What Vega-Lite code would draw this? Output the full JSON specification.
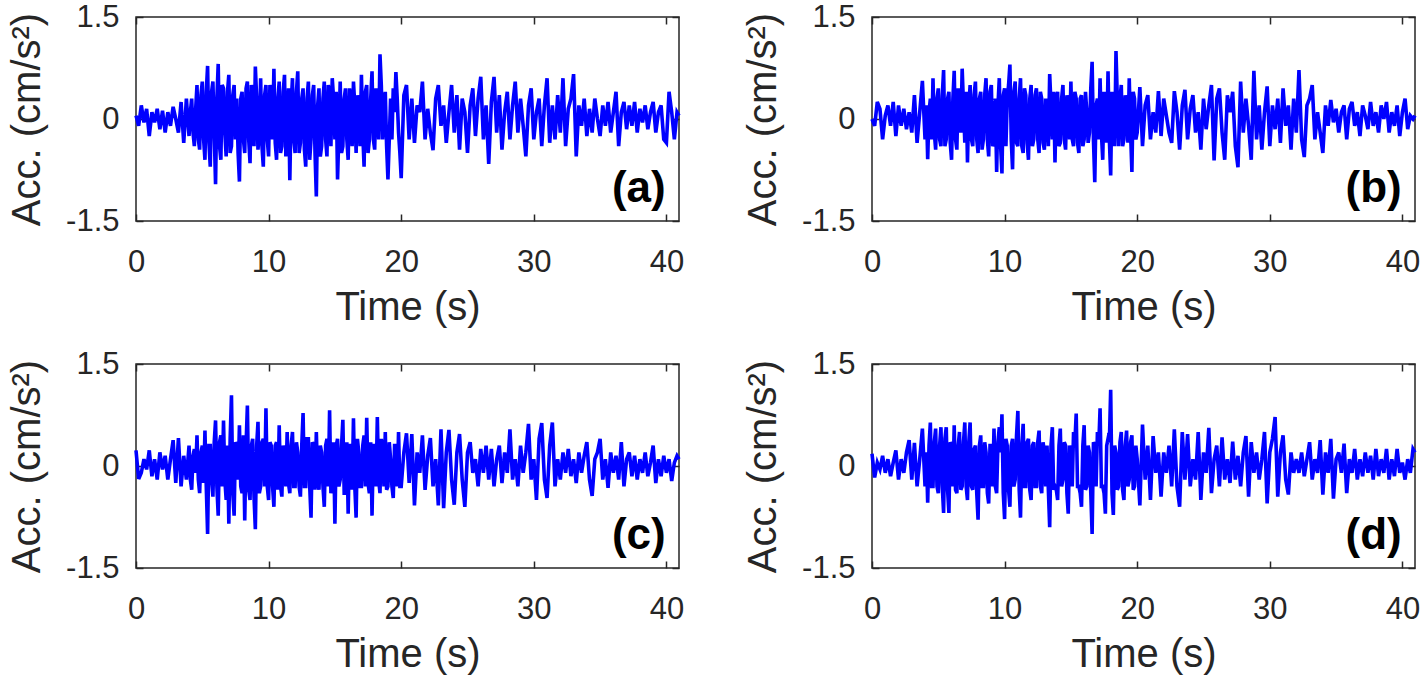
{
  "$schema": "https://vega.github.io/schema/vega-lite/v6.json",
  "padding": {"left": 6, "top": 0, "right": 0, "bottom": 0},
  "background": "white",
  "config": {
    "view": {"stroke": "#262626", "strokeWidth": 1.5},
    "font": "Liberation Sans",
    "axis": {"domain": false, "grid": false, "tickSize": -7, "tickWidth": 1.5, "tickColor": "#262626",
      "labelFont": "Liberation Sans", "labelFontSize": 31, "labelColor": "#262626", "labelFlush": false,
      "titleFont": "Liberation Sans", "titleFontSize": 40, "titleFontWeight": "normal", "titleColor": "#262626"},
    "axisBottom": {"labelPadding": 33, "titlePadding": 10},
    "axisLeft": {"labelPadding": 24, "titlePadding": 18},
    "axisTop": {"labels": false},
    "axisRight": {"labels": false},
    "text": {"font": "Liberation Sans", "fontWeight": "bold", "fontSize": 44, "align": "right", "baseline": "alphabetic", "color": "#000000"},
    "line": {"color": "#0000ff", "strokeWidth": 3.6}
  },
  "data": {"values": [
{"t":0,"a":0.05,"b":0,"c":0.23,"d":0.18},
{"t":0.2,"a":-0.1,"b":-0.1,"c":-0.19,"d":-0.17},
{"t":0.4,"a":0.2,"b":0.25,"c":-0.1,"d":0.05},
{"t":0.6,"a":-0.05,"b":0.15,"c":0.1,"d":-0.05},
{"t":0.8,"a":0.15,"b":-0.3,"c":-0.05,"d":0.15},
{"t":1,"a":-0.25,"b":0.05,"c":0.23,"d":-0.1},
{"t":1.2,"a":0.1,"b":0.2,"c":-0.15,"d":0.1},
{"t":1.4,"a":-0.05,"b":-0.1,"c":0.1,"d":-0.15},
{"t":1.6,"a":0.15,"b":0.25,"c":-0.2,"d":0.05},
{"t":1.8,"a":-0.15,"b":-0.25,"c":0.2,"d":0.23},
{"t":2,"a":0.12,"b":0.2,"c":-0.05,"d":-0.2},
{"t":2.2,"a":-0.2,"b":-0.1,"c":0.15,"d":0.1},
{"t":2.4,"a":0.1,"b":0.15,"c":-0.2,"d":-0.1},
{"t":2.6,"a":-0.1,"b":-0.15,"c":0.1,"d":0.2},
{"t":2.8,"a":0.18,"b":0.1,"c":0.38,"d":0.38},
{"t":3,"a":0,"b":-0.2,"c":-0.25,"d":-0.2},
{"t":3.2,"a":-0.2,"b":0.35,"c":0.41,"d":0.34},
{"t":3.4,"a":0.25,"b":-0.35,"c":-0.3,"d":-0.3},
{"t":3.6,"a":-0.35,"b":0.1,"c":0.15,"d":0.1},
{"t":3.8,"a":0.3,"b":0.56,"c":-0.2,"d":0.55},
{"t":4,"a":-0.25,"b":-0.3,"c":0.3,"d":-0.3},
{"t":4.2,"a":0.3,"b":-0.59,"c":-0.35,"d":-0.54},
{"t":4.4,"a":-0.4,"b":0.3,"c":0.25,"d":0.64},
{"t":4.6,"a":0.5,"b":0.6,"c":0.45,"d":-0.3},
{"t":4.8,"a":-0.45,"b":-0.45,"c":-0.4,"d":0.55},
{"t":5,"a":0.55,"b":0.45,"c":0.3,"d":-0.4},
{"t":5.2,"a":-0.6,"b":-0.4,"c":0.52,"d":0.57},
{"t":5.4,"a":0.78,"b":0.72,"c":-1.0,"d":-0.69},
{"t":5.6,"a":-0.7,"b":-0.3,"c":0.3,"d":0.57},
{"t":5.8,"a":0.55,"b":0.4,"c":-0.45,"d":-0.69},
{"t":6,"a":-0.96,"b":-0.6,"c":0.67,"d":0.3},
{"t":6.2,"a":0.81,"b":0.71,"c":-0.73,"d":0.6},
{"t":6.4,"a":-0.6,"b":-0.45,"c":0.45,"d":-0.4},
{"t":6.6,"a":0.45,"b":0.3,"c":0.67,"d":0.5},
{"t":6.8,"a":-0.55,"b":0.74,"c":-0.5,"d":-0.3},
{"t":7,"a":0.65,"b":-0.35,"c":-0.85,"d":0.64},
{"t":7.2,"a":-0.4,"b":-0.64,"c":1.04,"d":-0.5},
{"t":7.4,"a":0.5,"b":0.5,"c":-0.73,"d":0.64},
{"t":7.6,"a":0.3,"b":-0.4,"c":0.3,"d":-0.35},
{"t":7.8,"a":-0.92,"b":0.55,"c":0.6,"d":0.3},
{"t":8,"a":0.4,"b":-0.5,"c":-0.4,"d":-0.79},
{"t":8.2,"a":-0.5,"b":0.4,"c":-0.8,"d":0.45},
{"t":8.4,"a":0.55,"b":-0.3,"c":0.89,"d":-0.3},
{"t":8.6,"a":-0.65,"b":0.6,"c":-0.5,"d":0.2},
{"t":8.8,"a":0.3,"b":-0.55,"c":0.4,"d":-0.55},
{"t":9,"a":0.77,"b":0.5,"c":-0.93,"d":0.3},
{"t":9.2,"a":-0.45,"b":-0.35,"c":0.65,"d":0.55},
{"t":9.4,"a":0.6,"b":-0.78,"c":-0.3,"d":-0.4},
{"t":9.6,"a":-0.7,"b":0.6,"c":0.4,"d":0.57},
{"t":9.8,"a":0.5,"b":-0.8,"c":0.85,"d":0.76},
{"t":10,"a":-0.55,"b":0.45,"c":-0.5,"d":-0.78},
{"t":10.2,"a":0.3,"b":0.3,"c":0.3,"d":0.3},
{"t":10.4,"a":0.74,"b":0.8,"c":-0.6,"d":-0.6},
{"t":10.6,"a":-0.6,"b":-0.74,"c":0.35,"d":0.4},
{"t":10.8,"a":0.55,"b":0.55,"c":0.6,"d":-0.2},
{"t":11,"a":-0.4,"b":-0.4,"c":-0.45,"d":0.81},
{"t":11.2,"a":0.65,"b":0.6,"c":0.2,"d":-0.76},
{"t":11.4,"a":-0.2,"b":-0.5,"c":0.5,"d":0.62},
{"t":11.6,"a":-0.9,"b":0.35,"c":-0.4,"d":-0.3},
{"t":11.8,"a":0.6,"b":-0.6,"c":0.5,"d":0.4},
{"t":12,"a":-0.5,"b":0.5,"c":-0.3,"d":-0.5},
{"t":12.2,"a":0.7,"b":-0.3,"c":0.2,"d":0.35},
{"t":12.4,"a":-0.35,"b":0.45,"c":-0.45,"d":-0.3},
{"t":12.6,"a":0.45,"b":-0.5,"c":0.78,"d":0.52},
{"t":12.8,"a":-0.7,"b":0.3,"c":-0.3,"d":-0.4},
{"t":13,"a":0.55,"b":-0.45,"c":0.4,"d":0.2},
{"t":13.2,"a":-0.3,"b":0.2,"c":-0.76,"d":0.3},
{"t":13.4,"a":0.5,"b":0.66,"c":0.3,"d":-0.9},
{"t":13.6,"a":-1.14,"b":-0.3,"c":0.5,"d":0.57},
{"t":13.8,"a":0.45,"b":-0.64,"c":-0.35,"d":-0.3},
{"t":14,"a":-0.4,"b":0.4,"c":0.2,"d":-0.5},
{"t":14.2,"a":0.55,"b":-0.35,"c":-0.6,"d":0.55},
{"t":14.4,"a":-0.55,"b":0.5,"c":0.4,"d":-0.2},
{"t":14.6,"a":0.35,"b":-0.45,"c":0.82,"d":0.3},
{"t":14.8,"a":0.6,"b":0.2,"c":-0.3,"d":-0.7},
{"t":15,"a":-0.3,"b":0.55,"c":-0.85,"d":0.2},
{"t":15.2,"a":-0.89,"b":-0.4,"c":0.4,"d":0.5},
{"t":15.4,"a":0.55,"b":0.3,"c":-0.2,"d":0.77},
{"t":15.6,"a":-0.4,"b":-0.5,"c":0.68,"d":-0.3},
{"t":15.8,"a":0.45,"b":0.35,"c":-0.4,"d":-0.6},
{"t":16,"a":-0.6,"b":-0.3,"c":-0.7,"d":0.6},
{"t":16.2,"a":0.3,"b":0.1,"c":0.3,"d":-0.3},
{"t":16.4,"a":0.55,"b":-0.2,"c":0.7,"d":0.2},
{"t":16.6,"a":-0.5,"b":0.84,"c":-0.76,"d":-1.0},
{"t":16.8,"a":0.1,"b":-0.93,"c":0.2,"d":0.3},
{"t":17,"a":0.65,"b":0.3,"c":-0.3,"d":0.5},
{"t":17.2,"a":-0.7,"b":0.6,"c":0.45,"d":0.85},
{"t":17.4,"a":0.5,"b":-0.6,"c":0.71,"d":-0.3},
{"t":17.6,"a":-0.3,"b":0.2,"c":-0.4,"d":-0.7},
{"t":17.8,"a":0.7,"b":0.7,"c":-0.73,"d":0.4},
{"t":18,"a":-0.45,"b":-0.83,"c":0.3,"d":1.12},
{"t":18.2,"a":0.2,"b":0.3,"c":0.72,"d":-0.72},
{"t":18.4,"a":0.95,"b":1.0,"c":-0.4,"d":0.2},
{"t":18.6,"a":-0.3,"b":-0.4,"c":0.2,"d":-0.3},
{"t":18.8,"a":0.4,"b":0.5,"c":0.5,"d":0.5},
{"t":19,"a":-0.89,"b":-0.3,"c":-0.3,"d":-0.5},
{"t":19.2,"a":0.3,"b":0.2,"c":0.1,"d":0.52},
{"t":19.4,"a":0.45,"b":0.6,"c":-0.47,"d":-0.2},
{"t":19.6,"a":0.69,"b":-0.78,"c":0.3,"d":0.45},
{"t":19.8,"a":-0.2,"b":0.3,"c":0.5,"d":-0.3},
{"t":20,"a":-0.87,"b":-0.2,"c":-0.3,"d":0.1},
{"t":20.2,"a":0.35,"b":0.47,"c":0.2,"d":-0.58},
{"t":20.4,"a":0.5,"b":-0.4,"c":0.48,"d":0.61},
{"t":20.6,"a":-0.3,"b":0.2,"c":-0.25,"d":-0.2},
{"t":20.8,"a":0.3,"b":0.35,"c":0.47,"d":0.3},
{"t":21,"a":-0.35,"b":-0.3,"c":-0.58,"d":-0.5},
{"t":21.2,"a":0.2,"b":0.1,"c":0.2,"d":0.44},
{"t":21.4,"a":0.1,"b":-0.2,"c":-0.1,"d":-0.1},
{"t":21.6,"a":0.55,"b":0.41,"c":0.45,"d":0.2},
{"t":21.8,"a":-0.3,"b":-0.25,"c":-0.35,"d":-0.45},
{"t":22,"a":0.15,"b":0.3,"c":0.15,"d":0.2},
{"t":22.2,"a":-0.2,"b":0.05,"c":0.41,"d":-0.1},
{"t":22.4,"a":-0.46,"b":-0.2,"c":-0.3,"d":0.3},
{"t":22.6,"a":0.3,"b":-0.35,"c":0.1,"d":-0.3},
{"t":22.8,"a":0.5,"b":0.41,"c":-0.58,"d":0.54},
{"t":23,"a":-0.1,"b":0.1,"c":0.54,"d":-0.3},
{"t":23.2,"a":0.2,"b":-0.45,"c":-0.62,"d":-0.6},
{"t":23.4,"a":-0.35,"b":0.2,"c":0.2,"d":0.5},
{"t":23.6,"a":0.1,"b":0.43,"c":0.53,"d":-0.2},
{"t":23.8,"a":0.5,"b":-0.3,"c":-0.2,"d":0.47},
{"t":24,"a":-0.2,"b":0.15,"c":-0.57,"d":-0.3},
{"t":24.2,"a":0.35,"b":0.35,"c":0.2,"d":0.1},
{"t":24.4,"a":-0.45,"b":-0.2,"c":0.47,"d":-0.2},
{"t":24.6,"a":0.3,"b":0.1,"c":-0.2,"d":0.5},
{"t":24.8,"a":0.1,"b":-0.45,"c":-0.6,"d":-0.5},
{"t":25,"a":-0.5,"b":0.3,"c":0.2,"d":0.2},
{"t":25.2,"a":0.2,"b":-0.15,"c":0.35,"d":-0.1},
{"t":25.4,"a":0.45,"b":0.2,"c":-0.1,"d":0.56},
{"t":25.6,"a":-0.25,"b":0.5,"c":0.1,"d":-0.4},
{"t":25.8,"a":0.3,"b":-0.61,"c":-0.3,"d":0.1},
{"t":26,"a":0.62,"b":0.3,"c":0.25,"d":0.3},
{"t":26.2,"a":-0.3,"b":0.45,"c":-0.1,"d":-0.3},
{"t":26.4,"a":0.2,"b":-0.2,"c":0.3,"d":0.42},
{"t":26.6,"a":-0.66,"b":-0.6,"c":-0.2,"d":-0.2},
{"t":26.8,"a":0.25,"b":0.35,"c":0.25,"d":0.1},
{"t":27,"a":0.62,"b":0.1,"c":-0.3,"d":-0.25},
{"t":27.2,"a":-0.2,"b":0.4,"c":0.1,"d":0.36},
{"t":27.4,"a":0.35,"b":-0.4,"c":0.3,"d":-0.2},
{"t":27.6,"a":-0.45,"b":-0.71,"c":-0.25,"d":0.15},
{"t":27.8,"a":0.1,"b":0.55,"c":0.2,"d":-0.3},
{"t":28,"a":0.4,"b":-0.2,"c":-0.1,"d":0.2},
{"t":28.2,"a":-0.3,"b":0.3,"c":0.54,"d":0.44},
{"t":28.4,"a":0.2,"b":-0.1,"c":-0.2,"d":-0.45},
{"t":28.6,"a":0.55,"b":-0.6,"c":0.1,"d":0.35},
{"t":28.8,"a":-0.2,"b":0.71,"c":-0.3,"d":-0.1},
{"t":29,"a":0.3,"b":-0.3,"c":0.3,"d":0.2},
{"t":29.2,"a":-0.1,"b":0.2,"c":-0.1,"d":-0.2},
{"t":29.4,"a":-0.55,"b":-0.45,"c":0.2,"d":0.1},
{"t":29.6,"a":0.2,"b":0.1,"c":0.62,"d":0.5},
{"t":29.8,"a":0.45,"b":0.48,"c":-0.2,"d":-0.55},
{"t":30,"a":-0.3,"b":-0.4,"c":0.1,"d":0.2},
{"t":30.2,"a":0.1,"b":0.2,"c":-0.5,"d":0.4},
{"t":30.4,"a":0.3,"b":-0.15,"c":0.4,"d":0.72},
{"t":30.6,"a":-0.4,"b":0.3,"c":0.63,"d":-0.45},
{"t":30.8,"a":0.2,"b":-0.35,"c":-0.2,"d":0.2},
{"t":31,"a":0.6,"b":0.45,"c":-0.47,"d":0.45},
{"t":31.2,"a":-0.35,"b":-0.1,"c":0.3,"d":-0.2},
{"t":31.4,"a":0.2,"b":0.2,"c":0.64,"d":-0.42},
{"t":31.6,"a":-0.3,"b":-0.45,"c":-0.3,"d":0.2},
{"t":31.8,"a":0.35,"b":0.3,"c":0.1,"d":-0.1},
{"t":32,"a":-0.2,"b":-0.2,"c":-0.2,"d":0.1},
{"t":32.2,"a":0.6,"b":0.72,"c":0.2,"d":-0.1},
{"t":32.4,"a":-0.4,"b":-0.3,"c":-0.1,"d":0.2},
{"t":32.6,"a":0.15,"b":-0.56,"c":0.25,"d":-0.15},
{"t":32.8,"a":0.3,"b":0.2,"c":-0.15,"d":0.1},
{"t":33,"a":0.66,"b":0.3,"c":0.1,"d":0.35},
{"t":33.2,"a":-0.55,"b":0.5,"c":-0.25,"d":-0.2},
{"t":33.4,"a":0.2,"b":-0.3,"c":0.2,"d":0.1},
{"t":33.6,"a":-0.1,"b":0.1,"c":-0.1,"d":-0.1},
{"t":33.8,"a":0.3,"b":-0.2,"c":0.15,"d":0.38},
{"t":34,"a":-0.25,"b":-0.5,"c":0.35,"d":-0.42},
{"t":34.2,"a":0.15,"b":0.2,"c":-0.2,"d":0.2},
{"t":34.4,"a":-0.2,"b":-0.1,"c":-0.44,"d":-0.1},
{"t":34.6,"a":0.3,"b":0.28,"c":0.1,"d":0.4},
{"t":34.8,"a":0,"b":-0.05,"c":0.2,"d":-0.48},
{"t":35,"a":-0.25,"b":0.15,"c":0.4,"d":0.1},
{"t":35.2,"a":0.2,"b":-0.2,"c":-0.2,"d":0.2},
{"t":35.4,"a":-0.1,"b":0.1,"c":0.1,"d":-0.1},
{"t":35.6,"a":0.25,"b":0.2,"c":-0.32,"d":0.33},
{"t":35.8,"a":-0.2,"b":-0.3,"c":0.2,"d":-0.4},
{"t":36,"a":0.1,"b":0.15,"c":-0.1,"d":0.1},
{"t":36.2,"a":0.4,"b":0.25,"c":0.15,"d":-0.1},
{"t":36.4,"a":-0.4,"b":-0.1,"c":-0.2,"d":0.25},
{"t":36.6,"a":0.1,"b":0.1,"c":0.35,"d":-0.2},
{"t":36.8,"a":0.25,"b":-0.25,"c":-0.3,"d":0.1},
{"t":37,"a":-0.15,"b":0.2,"c":0.1,"d":-0.15},
{"t":37.2,"a":0.2,"b":0.05,"c":0.2,"d":0.2},
{"t":37.4,"a":-0.1,"b":-0.15,"c":-0.15,"d":-0.1},
{"t":37.6,"a":0.25,"b":0.25,"c":0.15,"d":0.15},
{"t":37.8,"a":-0.2,"b":-0.1,"c":-0.2,"d":-0.2},
{"t":38,"a":0.15,"b":0.1,"c":0.1,"d":0.25},
{"t":38.2,"a":-0.05,"b":-0.2,"c":-0.1,"d":-0.15},
{"t":38.4,"a":0.2,"b":0.2,"c":0.2,"d":0.1},
{"t":38.6,"a":-0.15,"b":0,"c":-0.15,"d":-0.1},
{"t":38.8,"a":0.1,"b":0.25,"c":0.05,"d":0.25},
{"t":39,"a":0.25,"b":-0.2,"c":0.3,"d":-0.2},
{"t":39.2,"a":-0.2,"b":0.1,"c":-0.25,"d":0.1},
{"t":39.4,"a":0.1,"b":-0.1,"c":0.1,"d":-0.15},
{"t":39.6,"a":0.2,"b":0.2,"c":-0.15,"d":0.25},
{"t":39.8,"a":-0.3,"b":-0.25,"c":0.15,"d":-0.1},
{"t":40,"a":-0.35,"b":0.1,"c":-0.1,"d":0.05},
{"t":40.2,"a":0.4,"b":0.3,"c":0.1,"d":-0.2},
{"t":40.4,"a":0.1,"b":-0.15,"c":-0.22,"d":0.1},
{"t":40.6,"a":-0.3,"b":0.05,"c":0.05,"d":-0.1},
{"t":40.8,"a":0.1,"b":0,"c":0.15,"d":0.25},
{"t":40.95,"a":0.05,"b":0.05,"c":0.1,"d":0.2},
{"t":4.1,"a":0.1,"b":0.2,"c":-0.2,"d":0.2},
{"t":4.3,"a":-0.2,"b":0.1,"c":0.15,"d":0.3},
{"t":4.5,"a":0.15,"b":-0.3,"c":-0.1,"d":-0.3},
{"t":4.7,"a":-0.3,"b":-0.2,"c":-0.2,"d":0.35},
{"t":4.9,"a":0.35,"b":0.3,"c":0.2,"d":-0.3},
{"t":5.1,"a":-0.3,"b":-0.3,"c":-0.25,"d":0.3},
{"t":5.3,"a":0.4,"b":0.35,"c":-0.3,"d":-0.3},
{"t":5.5,"a":-0.35,"b":-0.4,"c":0.3,"d":0.4},
{"t":5.7,"a":0.4,"b":0.3,"c":-0.2,"d":-0.35},
{"t":5.9,"a":-0.2,"b":-0.35,"c":0.35,"d":0.35},
{"t":6.1,"a":0.3,"b":0.3,"c":-0.3,"d":-0.3},
{"t":6.3,"a":-0.4,"b":-0.3,"c":0.35,"d":-0.35},
{"t":6.5,"a":0.5,"b":0.45,"c":-0.3,"d":0.3},
{"t":6.7,"a":-0.2,"b":-0.2,"c":-0.2,"d":-0.35},
{"t":6.9,"a":0.4,"b":0.2,"c":0.3,"d":0.35},
{"t":7.1,"a":-0.5,"b":0.4,"c":0.4,"d":-0.3},
{"t":7.3,"a":0.35,"b":0.2,"c":-0.4,"d":0.35},
{"t":7.5,"a":-0.3,"b":-0.3,"c":0.35,"d":-0.3},
{"t":7.7,"a":-0.5,"b":0.35,"c":-0.2,"d":0.25},
{"t":7.9,"a":0.3,"b":-0.3,"c":-0.3,"d":-0.4},
{"t":8.1,"a":-0.3,"b":0.3,"c":0.45,"d":0.3},
{"t":8.3,"a":0.45,"b":-0.45,"c":0.3,"d":-0.3},
{"t":8.5,"a":-0.3,"b":0.35,"c":-0.35,"d":0.35},
{"t":8.7,"a":0.5,"b":-0.3,"c":0.3,"d":-0.4},
{"t":8.9,"a":-0.4,"b":0.4,"c":-0.45,"d":0.3},
{"t":9.1,"a":0.3,"b":-0.4,"c":0.3,"d":-0.3},
{"t":9.3,"a":-0.2,"b":0.3,"c":-0.4,"d":-0.3},
{"t":9.5,"a":-0.4,"b":0.2,"c":0.35,"d":0.35},
{"t":9.7,"a":0.35,"b":-0.4,"c":-0.3,"d":0.2},
{"t":9.9,"a":-0.3,"b":0.35,"c":-0.3,"d":-0.4},
{"t":10.1,"a":0.5,"b":-0.4,"c":0.35,"d":0.4},
{"t":10.3,"a":-0.3,"b":0.5,"c":-0.3,"d":-0.35},
{"t":10.5,"a":-0.35,"b":-0.3,"c":0.3,"d":0.3},
{"t":10.7,"a":0.3,"b":0.4,"c":-0.35,"d":-0.3},
{"t":10.9,"a":-0.5,"b":-0.35,"c":-0.3,"d":0.45},
{"t":11.1,"a":0.4,"b":0.3,"c":0.3,"d":-0.35},
{"t":11.3,"a":-0.55,"b":-0.4,"c":-0.3,"d":0.3},
{"t":11.5,"a":0.45,"b":0.45,"c":-0.25,"d":-0.3},
{"t":11.7,"a":0.2,"b":-0.35,"c":0.3,"d":0.35},
{"t":11.9,"a":-0.3,"b":0.3,"c":-0.3,"d":-0.35},
{"t":12.1,"a":0.4,"b":-0.4,"c":0.35,"d":0.3},
{"t":12.3,"a":-0.5,"b":0.35,"c":-0.3,"d":-0.3},
{"t":12.5,"a":0.3,"b":-0.3,"c":0.3,"d":0.35},
{"t":12.7,"a":-0.45,"b":0.4,"c":-0.3,"d":-0.3},
{"t":12.9,"a":0.3,"b":-0.35,"c":0.4,"d":0.35},
{"t":13.1,"a":-0.6,"b":0.3,"c":-0.3,"d":-0.3},
{"t":13.3,"a":0.35,"b":-0.4,"c":0.35,"d":-0.35},
{"t":13.5,"a":-0.5,"b":0.2,"c":-0.35,"d":0.3},
{"t":13.7,"a":0.2,"b":0.4,"c":-0.2,"d":-0.35},
{"t":13.9,"a":-0.55,"b":0.3,"c":0.3,"d":-0.35},
{"t":14.1,"a":0.3,"b":-0.4,"c":-0.3,"d":0.3},
{"t":14.3,"a":-0.3,"b":0.3,"c":0.3,"d":-0.3},
{"t":14.5,"a":0.5,"b":-0.3,"c":-0.3,"d":0.35},
{"t":14.7,"a":-0.4,"b":0.35,"c":-0.4,"d":-0.4},
{"t":14.9,"a":0.3,"b":-0.3,"c":0.35,"d":0.3},
{"t":15.1,"a":0.4,"b":-0.3,"c":0.3,"d":-0.3},
{"t":15.3,"a":-0.2,"b":0.4,"c":-0.3,"d":0.35},
{"t":15.5,"a":-0.5,"b":-0.35,"c":0.3,"d":-0.3},
{"t":15.7,"a":0.3,"b":0.3,"c":-0.4,"d":-0.4},
{"t":15.9,"a":-0.3,"b":-0.4,"c":0.35,"d":0.3},
{"t":16.1,"a":0.45,"b":0.4,"c":0.3,"d":-0.35},
{"t":16.3,"a":-0.4,"b":-0.35,"c":-0.35,"d":0.3},
{"t":16.5,"a":0.2,"b":0.45,"c":-0.3,"d":-0.4},
{"t":16.7,"a":0.35,"b":-0.3,"c":0.4,"d":0.35},
{"t":16.9,"a":-0.4,"b":0.2,"c":-0.3,"d":-0.3},
{"t":17.1,"a":-0.2,"b":-0.3,"c":0.3,"d":0.3},
{"t":17.3,"a":0.4,"b":-0.2,"c":-0.3,"d":-0.3},
{"t":17.5,"a":-0.5,"b":0.4,"c":-0.25,"d":-0.4},
{"t":17.7,"a":0.3,"b":-0.35,"c":0.35,"d":0.3},
{"t":17.9,"a":-0.3,"b":-0.3,"c":0.3,"d":0.35},
{"t":18.1,"a":0.45,"b":0.4,"c":-0.3,"d":-0.4},
{"t":18.3,"a":-0.3,"b":-0.4,"c":-0.2,"d":0.3},
{"t":18.5,"a":0.5,"b":0.3,"c":0.4,"d":-0.35},
{"t":18.7,"a":0.2,"b":0.3,"c":-0.3,"d":0.35},
{"t":18.9,"a":-0.4,"b":-0.4,"c":-0.35,"d":-0.35},
{"t":19.1,"a":-0.3,"b":0.35,"c":0.35,"d":0.3},
{"t":19.3,"a":-0.3,"b":-0.35,"c":-0.3,"d":-0.3},
{"t":19.5,"a":0.1,"b":-0.2,"c":0.3,"d":0.35},
{"t":19.7,"a":0.3,"b":0.4,"c":-0.3,"d":-0.35},
{"t":19.9,"a":-0.5,"b":-0.3,"c":-0.3,"d":0.3}
  ]},
  "transform": [{"fold": ["a", "b", "c", "d"], "as": ["panel", "v"]}],
  "columns": 2,
  "spacing": {"row": 143, "column": 193},
  "bounds": "flush",
  "concat": [
    {
      "transform": [{"filter": "datum.panel == 'a'"}],
      "width": 543, "height": 204,
      "layer": [
        {"mark": "line",
         "encoding": {
           "x": {"field": "t", "type": "quantitative", "scale": {"domain": [0, 40.95], "nice": false, "zero": false},
             "axis": {"orient": "bottom", "values": [0, 10, 20, 30, 40], "format": "d", "title": "Time (s)"}},
           "y": {"field": "v", "type": "quantitative", "scale": {"domain": [-1.5, 1.5], "nice": false, "zero": false},
             "axis": {"orient": "left", "values": [-1.5, 0, 1.5], "title": "Acc. (cm/s²)", "labelExpr": "datum.value < 0 ? '-' + format(-datum.value, '~g') : format(datum.value, '~g')"}}}},
        {"transform": [{"aggregate": [{"op": "count", "as": "n"}]}],
         "mark": "text",
         "encoding": {
           "x": {"datum": 39.95, "type": "quantitative", "axis": {"orient": "top", "values": [0, 10, 20, 30, 40], "title": null}},
           "y": {"datum": -1.22, "type": "quantitative", "axis": {"orient": "right", "values": [-1.5, 0, 1.5], "title": null}},
           "text": {"value": "(a)"}}}
      ],
      "resolve": {"axis": {"x": "independent", "y": "independent"}}
    },
    {
      "transform": [{"filter": "datum.panel == 'b'"}],
      "width": 543, "height": 204,
      "layer": [
        {"mark": "line",
         "encoding": {
           "x": {"field": "t", "type": "quantitative", "scale": {"domain": [0, 40.95], "nice": false, "zero": false},
             "axis": {"orient": "bottom", "values": [0, 10, 20, 30, 40], "format": "d", "title": "Time (s)"}},
           "y": {"field": "v", "type": "quantitative", "scale": {"domain": [-1.5, 1.5], "nice": false, "zero": false},
             "axis": {"orient": "left", "values": [-1.5, 0, 1.5], "title": "Acc. (cm/s²)", "labelExpr": "datum.value < 0 ? '-' + format(-datum.value, '~g') : format(datum.value, '~g')"}}}},
        {"transform": [{"aggregate": [{"op": "count", "as": "n"}]}],
         "mark": "text",
         "encoding": {
           "x": {"datum": 39.95, "type": "quantitative", "axis": {"orient": "top", "values": [0, 10, 20, 30, 40], "title": null}},
           "y": {"datum": -1.22, "type": "quantitative", "axis": {"orient": "right", "values": [-1.5, 0, 1.5], "title": null}},
           "text": {"value": "(b)"}}}
      ],
      "resolve": {"axis": {"x": "independent", "y": "independent"}}
    },
    {
      "transform": [{"filter": "datum.panel == 'c'"}],
      "width": 543, "height": 204,
      "layer": [
        {"mark": "line",
         "encoding": {
           "x": {"field": "t", "type": "quantitative", "scale": {"domain": [0, 40.95], "nice": false, "zero": false},
             "axis": {"orient": "bottom", "values": [0, 10, 20, 30, 40], "format": "d", "title": "Time (s)"}},
           "y": {"field": "v", "type": "quantitative", "scale": {"domain": [-1.5, 1.5], "nice": false, "zero": false},
             "axis": {"orient": "left", "values": [-1.5, 0, 1.5], "title": "Acc. (cm/s²)", "labelExpr": "datum.value < 0 ? '-' + format(-datum.value, '~g') : format(datum.value, '~g')"}}}},
        {"transform": [{"aggregate": [{"op": "count", "as": "n"}]}],
         "mark": "text",
         "encoding": {
           "x": {"datum": 39.95, "type": "quantitative", "axis": {"orient": "top", "values": [0, 10, 20, 30, 40], "title": null}},
           "y": {"datum": -1.22, "type": "quantitative", "axis": {"orient": "right", "values": [-1.5, 0, 1.5], "title": null}},
           "text": {"value": "(c)"}}}
      ],
      "resolve": {"axis": {"x": "independent", "y": "independent"}}
    },
    {
      "transform": [{"filter": "datum.panel == 'd'"}],
      "width": 543, "height": 204,
      "layer": [
        {"mark": "line",
         "encoding": {
           "x": {"field": "t", "type": "quantitative", "scale": {"domain": [0, 40.95], "nice": false, "zero": false},
             "axis": {"orient": "bottom", "values": [0, 10, 20, 30, 40], "format": "d", "title": "Time (s)"}},
           "y": {"field": "v", "type": "quantitative", "scale": {"domain": [-1.5, 1.5], "nice": false, "zero": false},
             "axis": {"orient": "left", "values": [-1.5, 0, 1.5], "title": "Acc. (cm/s²)", "labelExpr": "datum.value < 0 ? '-' + format(-datum.value, '~g') : format(datum.value, '~g')"}}}},
        {"transform": [{"aggregate": [{"op": "count", "as": "n"}]}],
         "mark": "text",
         "encoding": {
           "x": {"datum": 39.95, "type": "quantitative", "axis": {"orient": "top", "values": [0, 10, 20, 30, 40], "title": null}},
           "y": {"datum": -1.22, "type": "quantitative", "axis": {"orient": "right", "values": [-1.5, 0, 1.5], "title": null}},
           "text": {"value": "(d)"}}}
      ],
      "resolve": {"axis": {"x": "independent", "y": "independent"}}
    }
  ]
}
